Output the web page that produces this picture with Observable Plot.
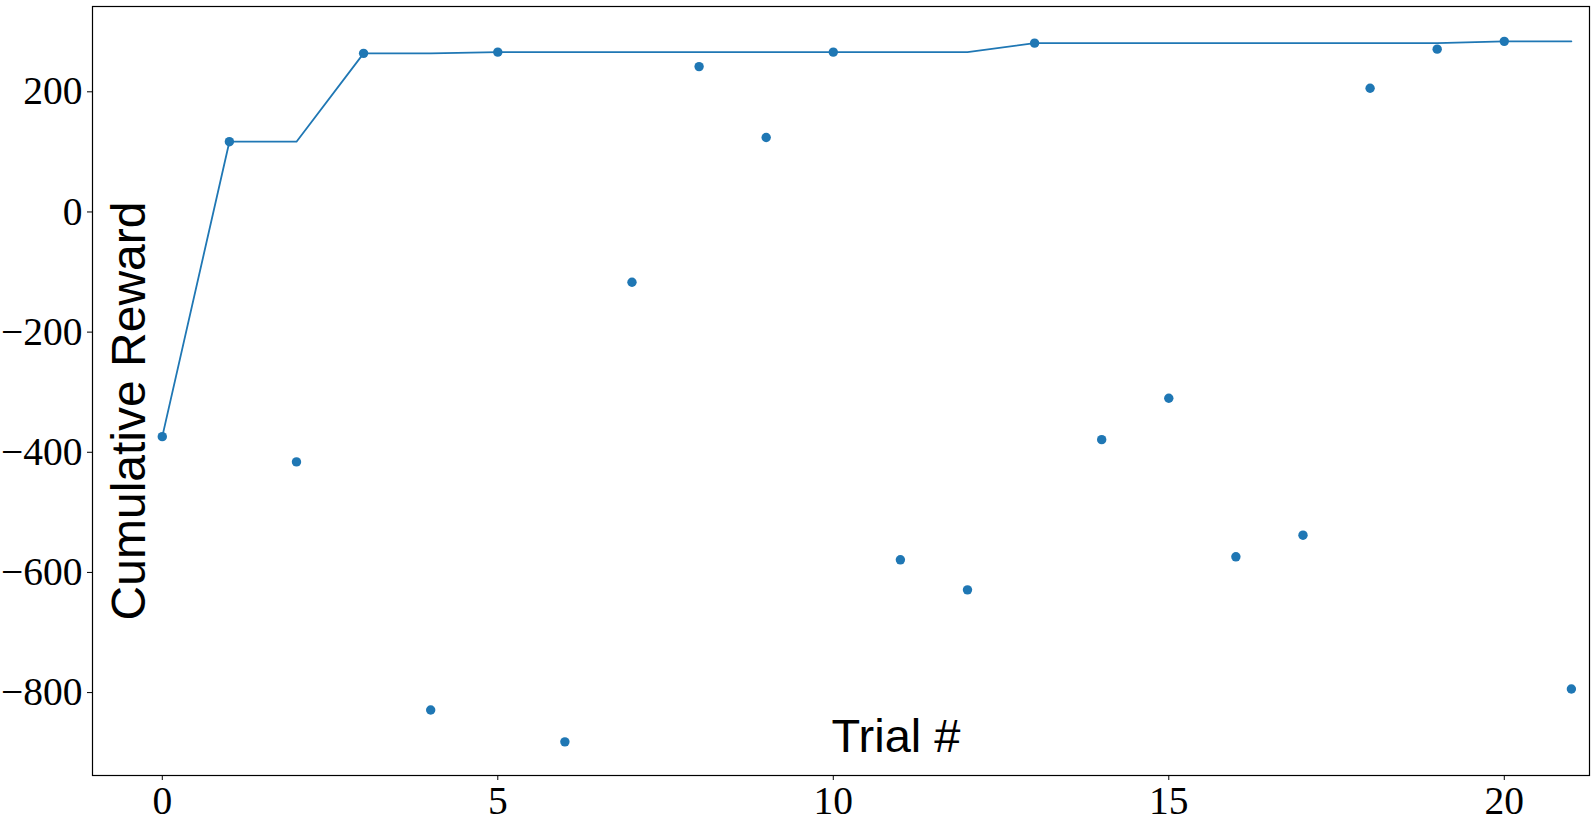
<!DOCTYPE html>
<html>
<head>
<meta charset="utf-8">
<script src="https://cdn.jsdelivr.net/npm/d3@7"></script>
<script src="https://cdn.jsdelivr.net/npm/@observablehq/plot@0.6"></script>
<style>
  html, body { margin: 0; padding: 0; background: #fff; }
  #chart svg { display: block; }
</style>
</head>
<body>
<div id="chart"></div>
<script>
const trials = [0,1,2,3,4,5,6,7,8,9,10,11,12,13,14,15,16,17,18,19,20,21];
const rewards = [-374,117,-416,264,-829,266,-882,-117,242,124,266,-579,-629,281,-379,-310,-574,-538,206,271,284,-794];
const bestSoFar = [-374,117,117,264,264,266,266,266,266,266,266,266,266,281,281,281,281,281,281,281,284,284];
const xTicks = [0,5,10,15,20];
const yTicks = [200,0,-200,-400,-600,-800];
const xLabel = "Trial #";
const yLabel = "Cumulative Reward";

const points = trials.map((t, i) => ({trial: t, reward: rewards[i]}));
const best = trials.map((t, i) => ({trial: t, best: bestSoFar[i]}));

const blue = "#1f77b4";
const fmtY = d => d < 0 ? "\u2212" + Math.abs(d) : String(d);

const chart = Plot.plot({
  width: 1594,
  height: 830,
  marginLeft: 92,
  marginRight: 5,
  marginTop: 6,
  marginBottom: 55,
  style: {background: "#fff", overflow: "visible"},
  x: {domain: [-1.04, 21.27], ticks: xTicks, tickFormat: d => String(d)},
  y: {domain: [-938, 342], ticks: yTicks, tickFormat: fmtY},
  marks: [
    Plot.frame({stroke: "#000", strokeWidth: 1.2}),
    Plot.axisX({ticks: xTicks, tickFormat: d => String(d), tickSize: 5, tickPadding: 5, fontSize: 39.5, fontFamily: "Liberation Serif", label: null, stroke: "#000", color: "#000"}),
    Plot.axisY({ticks: yTicks, tickFormat: fmtY, tickSize: 5, tickPadding: 5, fontSize: 39.5, fontFamily: "Liberation Serif", label: null, stroke: "#000", color: "#000"}),
    Plot.line(best, {x: "trial", y: "best", stroke: blue, strokeWidth: 1.8}),
    Plot.dot(points, {x: "trial", y: "reward", r: 4.7, fill: blue, stroke: "none"}),
    Plot.text([yLabel], {frameAnchor: "left", text: d => d, rotate: -90, dx: 37, dy: 20, fontSize: 48, fontFamily: "Liberation Sans", fill: "#000", textAnchor: "middle", lineAnchor: "middle"}),
    Plot.text([xLabel], {frameAnchor: "bottom", text: d => d, dx: 55, dy: -39, fontSize: 47, fontFamily: "Liberation Sans", fill: "#000", textAnchor: "middle", lineAnchor: "middle"})
  ]
});
document.getElementById("chart").appendChild(chart);
</script>
</body>
</html>
